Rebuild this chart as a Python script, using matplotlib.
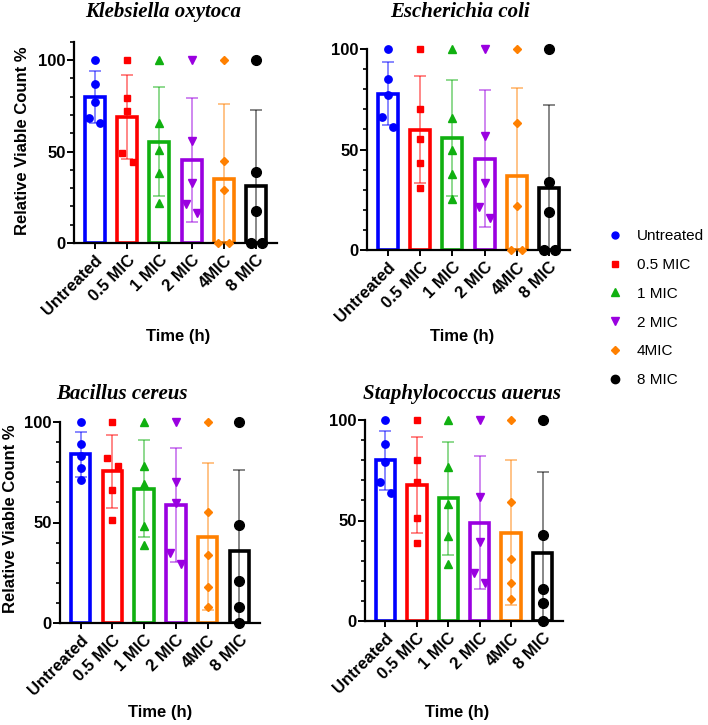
# Relative viable count - 4 bacterias
import numpy as np
import matplotlib
matplotlib.use('Agg')
import matplotlib.pyplot as plt
from matplotlib.lines import Line2D
from matplotlib.ticker import MultipleLocator

plt.rcParams['font.family'] = ['Liberation Sans', 'DejaVu Sans']

# Datos (5 replicas por tratamiento)
grupos = ['Untreated', '0.5 MIC', '1 MIC', '2 MIC', '4MIC', '8 MIC']

klebsiella = [[100, 87, 77, 68.5, 65.5],
              [100, 79, 72, 49, 44],
              [100, 65.5, 51, 38.5, 22],
              [100, 55.5, 33, 21.5, 16.5],
              [100, 45, 29, 0, 0],
              [100, 39, 17.5, 0, 0]]

ecoli = [[100, 85, 77, 66, 61],
         [100, 70, 55, 43.5, 31],
         [100, 65.5, 50, 38, 25.5],
         [100, 56.5, 33.5, 21.5, 16],
         [100, 63, 22, 0, 0],
         [100, 34, 19, 0, 0]]

bacillus = [[100, 89, 83, 77, 71],
            [100, 82, 78, 66, 51],
            [100, 78, 69, 48.5, 39],
            [100, 70, 59.5, 35, 29.5],
            [100, 55, 34, 18, 8],
            [100, 49, 21, 8, 0]]

staph = [[100, 88, 79, 69, 63.5],
         [100, 80, 69, 51, 39],
         [100, 76.5, 58, 42.5, 28.5],
         [100, 61.5, 39.5, 24, 19],
         [100, 59, 31, 19, 11],
         [100, 43, 16, 9, 0]]

colores = ['#0000ff', '#ff0000', '#10b010', '#9a00e0', '#ff8000', '#000000']
marcadores = ['o', 's', '^', 'v', 'D', 'o']
tam_marcador = [5.3, 5, 5.5, 5.5, 3.6, 7]

W, H = 708, 725
fig = plt.figure(figsize=(W / 100, H / 100), dpi=100)


def nuevo_eje(izq, arriba, der, abajo):
    return fig.add_axes([izq / W, 1 - abajo / H, (der - izq) / W, (abajo - arriba) / H])


def jitter(valores, umbral=5.8, paso=0.17):
    # separa horizontalmente los puntos que se solapan
    orden = np.argsort(valores)[::-1]
    offs = np.zeros(len(valores))
    grupo = [orden[0]]
    grupos_sol = []
    for k in orden[1:]:
        if valores[grupo[-1]] - valores[k] < umbral:
            grupo.append(k)
        else:
            grupos_sol.append(grupo)
            grupo = [k]
    grupos_sol.append(grupo)
    for g in grupos_sol:
        n = len(g)
        if n > 1:
            pos = np.linspace(-paso, paso, n)
            for j, k in enumerate(g):
                offs[k] = pos[j]
    return offs


def panel(ax, datos, ymax):
    x = np.arange(len(grupos))
    for i, vals in enumerate(datos):
        vals = np.array(vals, dtype=float)
        media = vals.mean()
        sd = vals.std(ddof=1)
        c = colores[i]
        ax.bar(x[i], media, width=0.62, facecolor='white', edgecolor=c,
               linewidth=2.6, zorder=2)
        ax.errorbar(x[i], media, yerr=[[min(sd, media)], [sd]], color=c, alpha=0.55,
                    capsize=4, elinewidth=1.2, capthick=1.2, zorder=3)
        ax.plot(x[i] + jitter(vals), vals, marker=marcadores[i], color=c, ls='none',
                ms=tam_marcador[i], clip_on=False, zorder=4)
    ax.set_xlim(-0.65, len(grupos) - 0.35)
    ax.set_ylim(0, ymax)
    ax.set_yticks([0, 50, 100])
    ax.yaxis.set_minor_locator(MultipleLocator(10))
    ax.set_xticks(x)
    ax.set_xticklabels(grupos, rotation=45, ha='right', rotation_mode='anchor',
                       fontsize=12, fontweight='bold')
    for lab in ax.get_yticklabels():
        lab.set_fontweight('bold')
        lab.set_fontsize(12)
    for s in ['top', 'right']:
        ax.spines[s].set_visible(False)
    for s in ['left', 'bottom']:
        ax.spines[s].set_linewidth(1.6)
    ax.tick_params(axis='y', which='major', length=5, width=1.4, pad=1)
    ax.tick_params(axis='y', which='minor', length=3, width=1.2)
    ax.tick_params(axis='x', length=4, width=1.4, pad=3)


ax1 = nuevo_eje(74, 41.7, 277, 243)
panel(ax1, klebsiella, 110)
ax2 = nuevo_eje(367, 49, 570, 250)
panel(ax2, ecoli, 100)
ax3 = nuevo_eje(60, 422, 260, 623)
panel(ax3, bacillus, 100)
ax4 = nuevo_eje(365, 420, 563, 621)
panel(ax4, staph, 100)

# Titulos y etiquetas
titulos = ['Klebsiella oxytoca', 'Escherichia coli', 'Bacillus cereus', 'Staphylococcus auerus']
pos_titulo = [(163, 12), (460, 12), (122, 394), (462, 394)]
for t, (px, py) in zip(titulos, pos_titulo):
    fig.text(px / W, 1 - py / H, t, ha='center', va='center', fontsize=15,
             fontweight='bold', fontstyle='italic', family=['Liberation Serif', 'DejaVu Serif'])

for (px, py) in [(178, 337), (462, 337), (160, 713), (457, 713)]:
    fig.text(px / W, 1 - py / H, 'Time (h)', ha='center', va='center',
             fontsize=12, fontweight='bold')

for (px, py) in [(23, 141), (11, 519)]:
    fig.text(px / W, 1 - py / H, 'Relative Viable Count %', ha='center', va='center',
             rotation=90, fontsize=12, fontweight='bold')

# Leyenda
tam_leyenda = [5, 5, 5.3, 5.3, 3.6, 6]
handles = [Line2D([], [], marker=m, color=c, ls='none', ms=s)
           for m, c, s in zip(marcadores, colores, tam_leyenda)]
fig.legend(handles, grupos, loc='upper left', bbox_to_anchor=(600 / W, 1 - 223 / H),
           borderaxespad=0, frameon=False, fontsize=11, labelspacing=0.97,
           handletextpad=0.8, handlelength=1.2)

plt.savefig('out.png', dpi=100)
